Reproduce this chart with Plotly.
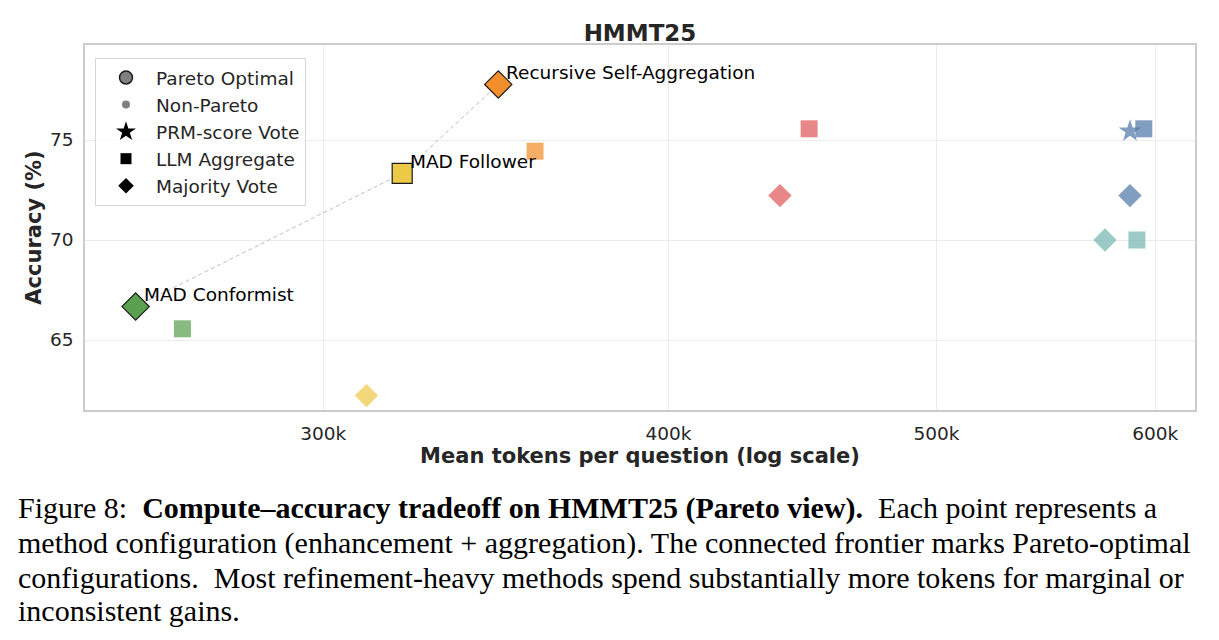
import numpy as np
import plotly.graph_objects as go

# ---------------- data ----------------
tokens = [256600, 266800, 311000, 320400, 347100, 357900,
          438900, 449700, 575400, 590900, 587500, 594300, 587500]
accuracy = [66.67, 65.56, 62.22, 73.33, 77.78, 74.44,
            72.22, 75.56, 70.00, 70.00, 75.44, 75.56, 72.22]
aggregation = ["Majority Vote", "LLM Aggregate", "Majority Vote", "LLM Aggregate",
               "Majority Vote", "LLM Aggregate", "Majority Vote", "LLM Aggregate",
               "Majority Vote", "LLM Aggregate", "PRM-score Vote", "LLM Aggregate",
               "Majority Vote"]
method_group = ["green", "green", "yellow", "yellow", "orange", "orange",
                "red", "red", "teal", "teal", "blue", "blue", "blue"]
pareto = [True, False, False, True, True, False,
          False, False, False, False, False, False, False]
point_labels = ["MAD Conformist", "", "", "MAD Follower", "Recursive Self-Aggregation", "",
                "", "", "", "", "", "", ""]

group_colors = {"green": "#59a14f", "yellow": "#edc948", "orange": "#f28e2b",
                "red": "#e15759", "teal": "#76b7b2", "blue": "#4e79a7"}
symbol_map = {"Majority Vote": "diamond", "LLM Aggregate": "square", "PRM-score Vote": "star"}

x_ticks = [300000, 400000, 500000, 600000]
x_tick_text = ["300k", "400k", "500k", "600k"]
y_ticks = [65, 70, 75]

title = "HMMT25"
x_title = "Mean tokens per question (log scale)"
y_title = "Accuracy (%)"
caption_lines = [
    "Figure 8:  <b>Compute–accuracy tradeoff on HMMT25 (Pareto view).</b>  Each point represents a",
    "method configuration (enhancement + aggregation). The connected frontier marks Pareto-optimal",
    "configurations.  Most refinement-heavy methods spend substantially more tokens for marginal or",
    "inconsistent gains.",
]

# ---------------- layout geometry ----------------
W, H = 1219, 640
L, R, T, B = 85, 1195, 45, 410
TXT = "#262626"

def px_to_paper(px, py):
    return (px - L) / (R - L), 1 - (py - T) / (B - T)

fig = go.Figure()

# Pareto frontier line
pf = sorted([(t, a) for t, a, p in zip(tokens, accuracy, pareto) if p])
fig.add_trace(go.Scatter(
    x=[p[0] for p in pf], y=[p[1] for p in pf], mode="lines",
    line=dict(color="#bdbdbd", width=1, dash="4px,3px"),
    showlegend=False, hoverinfo="skip"))

# points
for t, a, agg, g, p in zip(tokens, accuracy, aggregation, method_group, pareto):
    sym = symbol_map[agg]
    base = {"diamond": 18, "square": 17, "star": 17}[sym]
    if p:
        marker = dict(symbol=sym, size=base + 3, color=group_colors[g], opacity=1.0,
                      line=dict(color="#1a1a1a", width=1.2))
    else:
        marker = dict(symbol=sym, size=base, color=group_colors[g], opacity=0.72,
                      line=dict(width=0))
    fig.add_trace(go.Scatter(x=[t], y=[a], mode="markers", marker=marker,
                             showlegend=False, name=agg))

# legend entries
legend_items = [
    ("Pareto Optimal", dict(symbol="circle", size=13, color="#808080",
                            line=dict(color="#1a1a1a", width=1.5))),
    ("Non-Pareto", dict(symbol="circle", size=8, color="#808080", line=dict(width=0))),
    ("PRM-score Vote", dict(symbol="star", size=15, color="black", line=dict(width=0))),
    ("LLM Aggregate", dict(symbol="square", size=11, color="black", line=dict(width=0))),
    ("Majority Vote", dict(symbol="diamond", size=12, color="black", line=dict(width=0))),
]
for name, mk in legend_items:
    fig.add_trace(go.Scatter(x=[None], y=[None], mode="markers", marker=mk,
                             name=name, showlegend=True))

# point labels
annotations = []
for t, a, lab in zip(tokens, accuracy, point_labels):
    if lab:
        annotations.append(dict(x=np.log10(t), y=a, xref="x", yref="y", text=lab,
                                showarrow=False, xanchor="left", yanchor="middle",
                                xshift=6, yshift=12,
                                font=dict(family="DejaVu Sans", size=18.5, color="black")))

# caption
cap_y = [508, 543, 577, 610]
for line, cy in zip(caption_lines, cap_y):
    xp, yp = px_to_paper(16, cy)
    annotations.append(dict(x=xp, y=yp, xref="paper", yref="paper", text=line,
                            showarrow=False, xanchor="left", yanchor="middle",
                            font=dict(family="Liberation Serif", size=30, color="black")))

fig.update_layout(
    width=W, height=H,
    margin=dict(l=L, r=W - R, t=T, b=H - B),
    paper_bgcolor="white", plot_bgcolor="white",
    font=dict(family="DejaVu Sans", size=18.5, color=TXT),
    title=dict(text=f"<b>{title}</b>", x=0.5, xref="paper", xanchor="center",
               y=1 - 33 / H, yref="container", yanchor="middle",
               font=dict(family="DejaVu Sans", size=23, color=TXT)),
    xaxis=dict(type="log", range=[np.log10(246000), np.log10(620200)],
               tickvals=x_ticks, ticktext=x_tick_text,
               showgrid=True, gridcolor="#ebebeb", gridwidth=1,
               showline=True, linecolor="#cccccc", linewidth=1.5, mirror=True,
               ticks="", ticklabelstandoff=6, zeroline=False,
               title=dict(text=f"<b>{x_title}</b>", standoff=5,
                          font=dict(family="DejaVu Sans", size=21, color=TXT))),
    yaxis=dict(range=[61.5, 79.75], tickvals=y_ticks,
               showgrid=True, gridcolor="#ebebeb", gridwidth=1,
               showline=True, linecolor="#cccccc", linewidth=1.5, mirror=True,
               ticks="", ticklabelstandoff=6, zeroline=False,
               title=dict(text=f"<b>{y_title}</b>", standoff=3,
                          font=dict(family="DejaVu Sans", size=21, color=TXT))),
    legend=dict(x=px_to_paper(95, 58)[0], y=px_to_paper(95, 58)[1],
                xanchor="left", yanchor="top",
                bgcolor="rgba(255,255,255,0.85)", bordercolor="#d6d6d6", borderwidth=1,
                font=dict(family="DejaVu Sans", size=18.5, color=TXT),
                itemsizing="trace", itemwidth=50, tracegroupgap=0),
    annotations=annotations,
    showlegend=True,
)

fig.write_html("out.html")
